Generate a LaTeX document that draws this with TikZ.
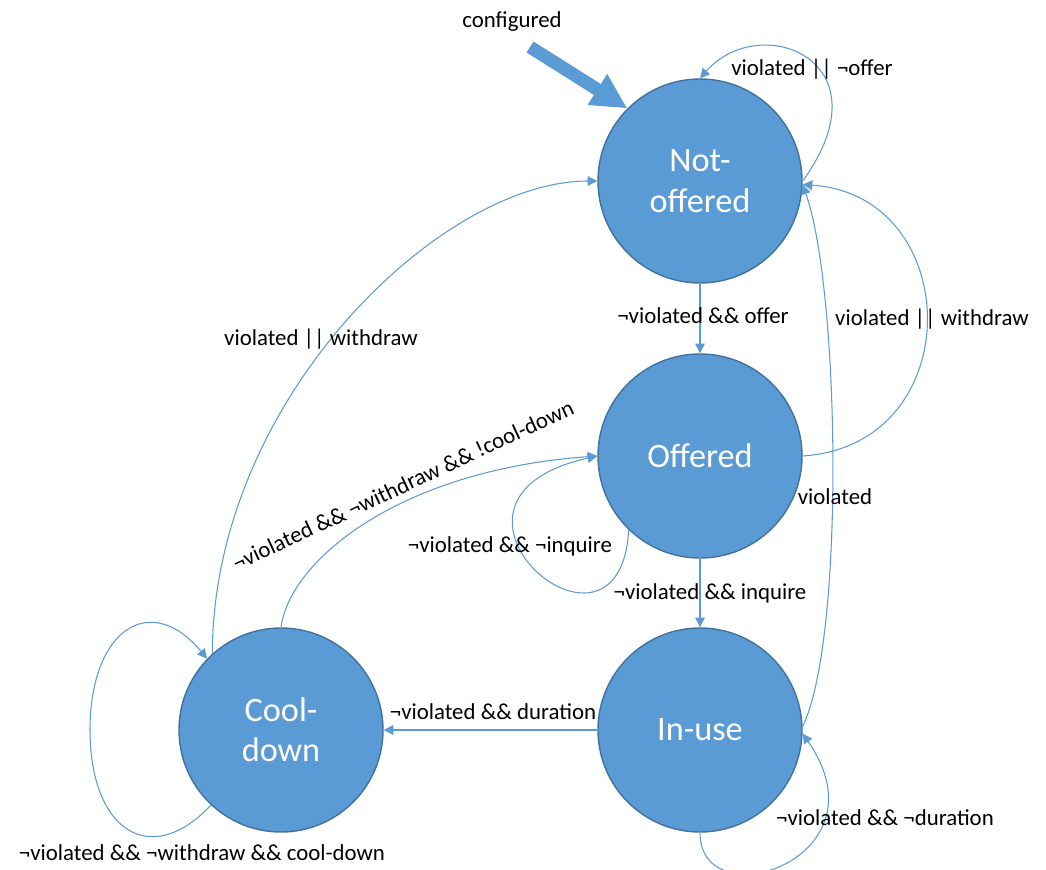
\documentclass[tikz,border=0pt]{standalone}
\usepackage{fontspec}
\setmainfont{Carlito}
\usetikzlibrary{arrows.meta}
\definecolor{stateblue}{HTML}{5B9BD5}
\definecolor{stateborder}{HTML}{41719C}
\tikzset{
    state/.style={circle, fill=stateblue, draw=stateborder, line width=0.8pt,
            minimum size=4.08cm, inner sep=0pt, text=white, align=center,
            font=\fontsize{19.5}{23}\selectfont},
    trans/.style={draw=stateblue, line width=0.6pt,
            -{Triangle[length=5.5pt,width=5.5pt]}},
    entry/.style={draw=stateblue, line width=0.26cm,
            -{Triangle[length=0.71cm,width=0.68cm]}},
    lbl/.style={font=\fontsize{13}{15.6}\selectfont, inner sep=1pt},
}

\begin{document}
\begin{tikzpicture}
        \useasboundingbox (0,0) rectangle (20.92,-17.4);
        %draw states
        \node[state] (no) at (14.0,-3.62) {Not-\\offered};
        \node[state] (o) at (14.0,-9.12) {Offered};
        \node[state] (iu) at (14.0,-14.6) {In-use};
        \node[state] (cd) at (5.62,-14.6) {Cool-\\down};
        %initial arrow
        \node[lbl] (cfg) at (10.24,-0.44) {configured};
        \coordinate (cfgtail) at (10.6,-0.94);
        \draw[entry] (cfgtail) -- (no.135);
        %transitions down the column
        \draw[trans] (no) -- (o);
        \draw[trans] (o) -- (iu);
        \draw[trans] (iu) -- (cd);
        %transitions back to not-offered
        \draw[trans] (o.east) .. controls (19.4,-8.9) and (19.3,-3.9) .. (no.-2);
        \draw[trans] (iu.2) .. controls (16.9,-12.8) and (16.8,-5.8) .. (no.-2);
        \draw[trans] (cd.132) .. controls (4.26,-8.0) and (8.8,-3.62) .. (no.west);
        %cool-down back to offered
        \draw[trans] (cd.north) .. controls (5.8,-11.2) and (8.0,-9.4) .. (o.west);
        %self loops
        \draw[trans] (no.east) .. controls (17.8,-1.2) and (15.2,-0.2) .. (no.north);
        \draw[trans] (o.226) .. controls (12.4,-13.8) and (8.0,-10.0) .. (o.west);
        \draw[trans] (iu.south) .. controls (14.0,-18.4) and (17.8,-17.2) .. (iu.-2);
        \draw[trans] (cd.227) .. controls (3.0,-17.4) and (1.8,-16.6) .. (1.8,-14.6)
            .. controls (1.8,-12.6) and (3.0,-11.8) .. (cd.136);
        %label transitions
        \node[lbl] (lnoloop) at (16.24,-1.38) {violated || ¬offer};
        \node[lbl] (lnoo) at (14.06,-6.32) {¬violated \&\& offer};
        \node[lbl] (lono) at (18.64,-6.38) {violated || withdraw};
        \node[lbl] (lcdno) at (6.42,-6.78) {violated || withdraw};
        \node[lbl, rotate=25] (lcdo) at (8.06,-9.7) {¬violated \&\& ¬withdraw \&\& !cool-down};
        \node[lbl] (lololoop) at (10.2,-10.92) {¬violated \&\& ¬inquire};
        \node[lbl] (liuno) at (16.7,-9.94) {violated};
        \node[lbl] (loiu) at (14.2,-11.86) {¬violated \&\& inquire};
        \node[lbl] (liucd) at (9.86,-14.24) {¬violated \&\& duration};
        \node[lbl] (liuloop) at (17.7,-16.36) {¬violated \&\& ¬duration};
        \node[lbl] (lcdloop) at (4.04,-17.06) {¬violated \&\& ¬withdraw \&\& cool-down};
    \end{tikzpicture}
\end{document}
